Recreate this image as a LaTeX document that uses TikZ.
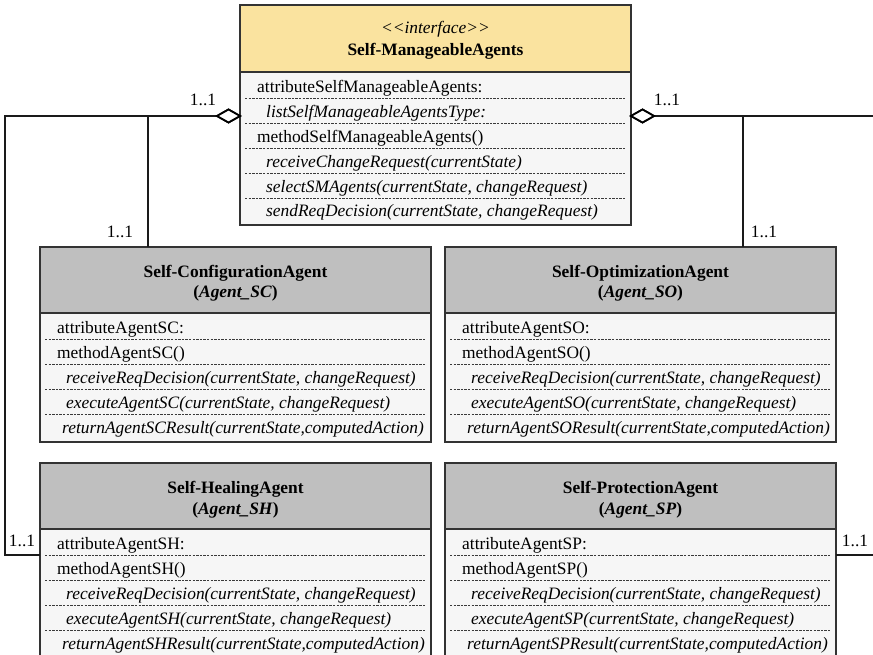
\documentclass[tikz,border=0pt]{standalone}
\usepackage{fontspec}
\setmainfont{Liberation Serif}
\usetikzlibrary{shapes.geometric}

\definecolor{boxline}{HTML}{333333}
\definecolor{rulegray}{HTML}{3A3A3A}
\definecolor{bodyfill}{HTML}{F6F6F6}
\definecolor{ifacefill}{HTML}{FAE39F}
\definecolor{agentfill}{HTML}{BFBFBF}
\definecolor{linkline}{HTML}{1A1A1A}

\newcommand\umlsize{\fontsize{17.4}{20}\selectfont}

% One agent class: id, left x, top y, class name, short code
\newcommand\agentclass[5]{%
  \begin{scope}[shift={(#2,#3)}]
    \node[classbox, minimum height=195pt] (#1) at (0,0) {};
    \node[classhead=agentfill, minimum height=66pt] (#1-head) at (0,0) {};
    \node[title] (#1-name) at (195.5,30) {\bfseries #4};
    \node[title] (#1-alias) at (195.5,51) {\bfseries(\textit{Agent\_#5})};
    \foreach \y in {92,117,142,167} \draw[memberrule] (5,\y) -- (386,\y);
    \node[member] (#1-attr) at (17,86) {attributeAgent#5:};
    \node[member] (#1-meth) at (17,111) {methodAgent#5()};
    \node[oper] (#1-recv) at (26,136) {receiveReqDecision(currentState, changeRequest)};
    \node[oper] (#1-exec) at (26,161) {executeAgent#5(currentState, changeRequest)};
    \node[oper] (#1-ret) at (22,186) {returnAgent#5Result(currentState,computedAction)};
  \end{scope}}

\begin{document}
\begin{tikzpicture}[x=1pt,y=-1pt,
  classbox/.style={draw=boxline, line width=1.3pt, fill=bodyfill, anchor=north west,
    inner sep=0pt, outer sep=0pt, minimum width=391pt},
  classhead/.style={classbox, fill=#1},
  title/.style={anchor=base, inner sep=0pt, font=\umlsize},
  member/.style={anchor=base west, inner sep=0pt, font=\umlsize},
  oper/.style={member, font=\umlsize\itshape},
  memberrule/.style={draw=rulegray, line width=1pt, dash pattern=on 2.4pt off 1.2pt},
  link/.style={draw=linkline, line width=1.2pt},
  aggr/.style={diamond, draw=black, line width=1.8pt, fill=white, inner sep=0pt,
    outer sep=0pt, minimum width=23pt, minimum height=13pt},
  mult/.style={inner sep=0pt, font=\umlsize}
]
\useasboundingbox (0,0) rectangle (873,655);

% Interface class
\node[classbox, minimum height=220pt] (iface) at (240,5) {};
\node[classhead=ifacefill, minimum height=67pt] (iface-head) at (240,5) {};
\node[title] (iface-stereo) at (435.5,34) {\itshape <\kern0pt<interface>\kern0pt>};
\node[title] (iface-name) at (435.5,56) {\bfseries Self-ManageableAgents};
\foreach \y in {99,124,149,174,199} \draw[memberrule] (245,\y) -- (626,\y);
\node[member] (iface-attr) at (257,93) {attributeSelfManageableAgents:};
\node[oper] (iface-list) at (266,118) {listSelfManageableAgentsType:};
\node[member] (iface-meth) at (257,143) {methodSelfManageableAgents()};
\node[oper] (iface-recv) at (266,168) {receiveChangeRequest(currentState)};
\node[oper] (iface-sel) at (266,193) {selectSMAgents(currentState, changeRequest)};
\node[oper] (iface-send) at (266,217) {sendReqDecision(currentState, changeRequest)};

% Agent classes
\agentclass{sc}{40}{247}{Self-ConfigurationAgent}{SC}
\agentclass{so}{445}{247}{Self-OptimizationAgent}{SO}
\agentclass{sh}{40}{463}{Self-HealingAgent}{SH}
\agentclass{sp}{445}{463}{Self-ProtectionAgent}{SP}

% Aggregation connectors
\coordinate (bend-l) at (148,116);
\coordinate (corner-l) at (5,116);
\coordinate (sh-port) at (40,555);
\coordinate (bend-r) at (743,116);
\coordinate (corner-r) at (875,116);
\coordinate (sp-port) at (836,555);

\node[aggr, anchor=east] (agg-l) at (240,116) {};
\node[aggr, anchor=west] (agg-r) at (631,116) {};

\draw[link] (agg-l.west) -- (bend-l) -- (bend-l |- sc.north);
\draw[link] (agg-l.west) -- (corner-l) |- (sh-port);
\draw[link] (agg-r.east) -- (bend-r) -- (bend-r |- so.north);
\draw[link] (agg-r.east) -- (corner-r) |- (sp-port);

\node[aggr, anchor=east] at (agg-l.east) {};
\node[aggr, anchor=west] at (agg-r.west) {};

% Multiplicities
\node[mult] (mult-l) at (203,100) {1..1};
\node[mult] (mult-r) at (667,100) {1..1};
\node[mult] (mult-sc) at (120,232) {1..1};
\node[mult] (mult-so) at (764,232) {1..1};
\node[mult] (mult-sh) at (22,541) {1..1};
\node[mult] (mult-sp) at (855,541) {1..1};
\end{tikzpicture}
\end{document}
